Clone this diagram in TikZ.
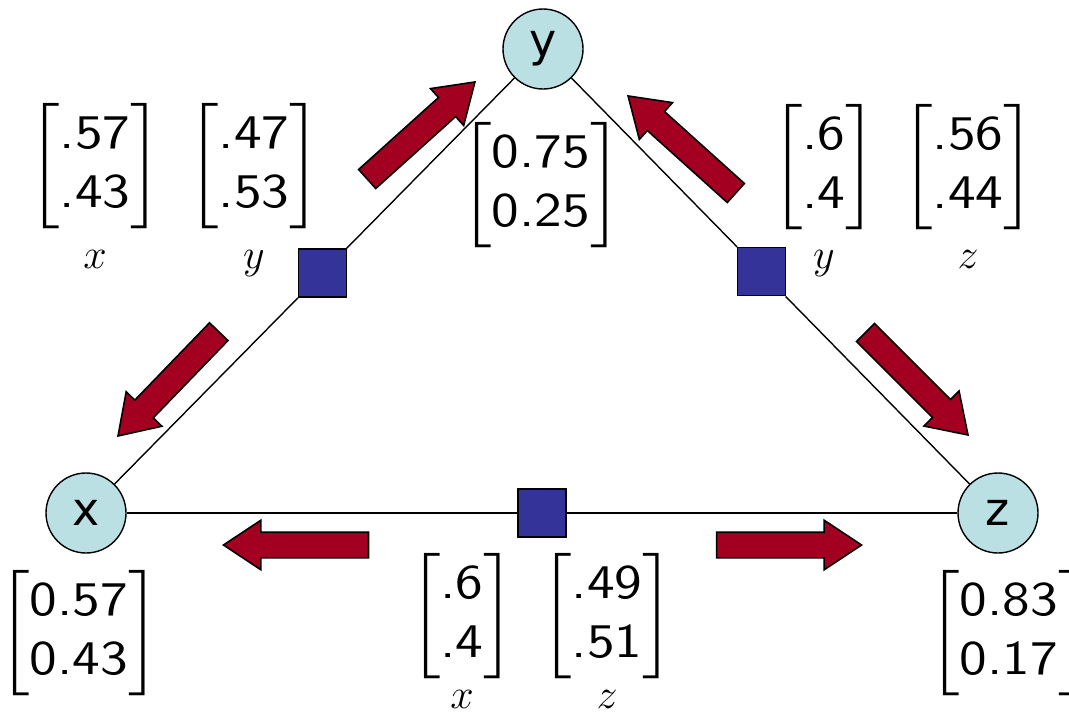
\documentclass[tikz,border=0pt]{standalone}
\usepackage{fix-cm}
\usepackage{amsmath}
\usepackage{fontspec}
\newfontfamily\varfont{DejaVu Sans}
\newfontfamily\numfont{lmsans10-regular.otf}
\usetikzlibrary{positioning,calc,shapes.arrows}
\definecolor{CVar}{HTML}{BAE0E3}
\definecolor{CFactor}{HTML}{333399}
\definecolor{CMsg}{HTML}{A30021}
\newcommand{\probvec}[2]{\scalebox{1.2}[1.05]{$\begin{bmatrix}\text{\numfont #1}\\\text{\numfont #2}\end{bmatrix}$}}

\begin{document}
\begin{tikzpicture}[x=0.5pt, y=-0.5pt,
  var/.style={circle, draw=black, line width=0.7pt, fill=CVar, minimum size=40pt, inner sep=0pt, font=\varfont\fontsize{23}{28}\selectfont},
  factor/.style={rectangle, draw=black, line width=0.7pt, fill=CFactor, minimum size=24pt, inner sep=0pt},
  edge/.style={black, line width=0.7pt},
  msg/.style={single arrow, draw=black, line width=0.8pt, fill=CMsg, minimum height=72.5pt, minimum width=24pt,
    single arrow head extend=6pt, single arrow tip angle=67, single arrow head indent=0pt, inner xsep=0pt, inner ysep=6pt, anchor=tip},
  belief/.style={inner sep=0pt, font=\fontsize{23}{28}\selectfont},
  varlabel/.style={anchor=base, inner sep=0pt, font=\fontsize{21}{25}\selectfont}]
\clip (0,0) rectangle (1069,723);
% variables
\node[var] (vy) at (543,49) {y};
\node[var] (vx) at (86,513) {x};
\node[var] (vz) at (998,513) {z};
% factors
\node[factor] (fxy) at ($(vx)!0.517!(vy)$) {};
\node[factor] (fyz) at ($(vy)!0.48!(vz)$) {};
\node[factor] (fxz) at ($(vx)!0.5!(vz)$) {};
\draw[edge] (vx) -- (fxy) -- (vy);
\draw[edge] (vy) -- (fyz) -- (vz);
\draw[edge] (vx) -- (fxz) -- (vz);
% messages (placed by their tips)
\node[msg, rotate=42]  (mxyup)    at (476,81) {};
\node[msg, rotate=226] (mxydown)  at (117,437) {};
\node[msg, rotate=138] (myzup)    at (627,95) {};
\node[msg, rotate=-45] (myzdown)  at (969,436) {};
\node[msg, rotate=180] (mxzleft)  at (222,545) {};
\node[msg]             (mxzright) at (863,545) {};
% factor tables
\node[belief] (txy1) at (95,166)  {\probvec{.57}{.43}}; \node[varlabel] (lxy1) at (95,268)  {$x$};
\node[belief] (txy2) at (254,166) {\probvec{.47}{.53}}; \node[varlabel] (lxy2) at (254,268) {$y$};
\node[belief] (tyz1) at (824,167) {\probvec{.6}{.4}};   \node[varlabel] (lyz1) at (824,268) {$y$};
\node[belief] (tyz2) at (968,167) {\probvec{.56}{.44}}; \node[varlabel] (lyz2) at (968,268) {$z$};
\node[belief] (txz1) at (462,616) {\probvec{.6}{.4}};   \node[varlabel] (lxz1) at (462,708) {$x$};
\node[belief] (txz2) at (607,616) {\probvec{.49}{.51}}; \node[varlabel] (lxz2) at (607,708) {$z$};
% marginals
\node[belief] (by) at (541,185)  {\probvec{0.75}{0.25}};
\node[belief] (bx) at (79,633)   {\probvec{0.57}{0.43}};
\node[belief] (bz) at (1009,633) {\probvec{0.83}{0.17}};
\end{tikzpicture}
\end{document}
